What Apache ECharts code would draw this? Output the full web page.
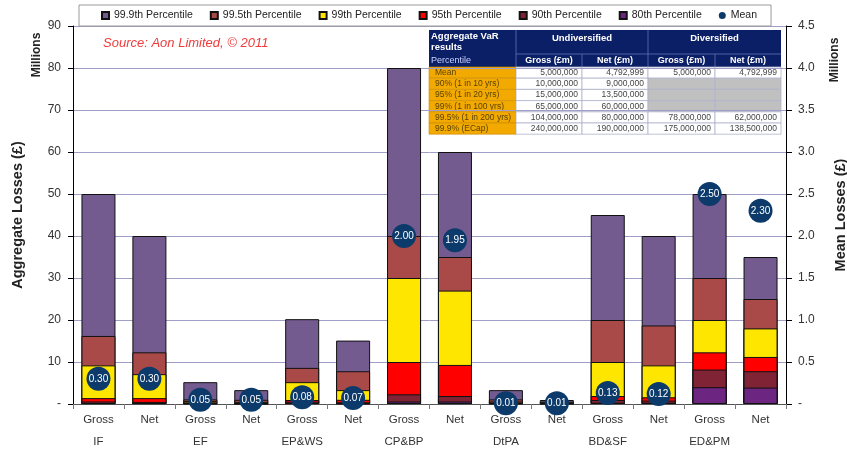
<!DOCTYPE html>
<html><head><meta charset="utf-8">
<script src="https://cdn.jsdelivr.net/npm/echarts@6/dist/echarts.min.js"></script>
<style>html,body{margin:0;padding:0;background:#fff}#c{width:847px;height:454px}</style>
</head><body><div id="c"></div>
<script>
// ---- data (values in millions) ----
const categories = ['Gross','Net','Gross','Net','Gross','Net','Gross','Net','Gross','Net','Gross','Net','Gross','Net'];
const groups = ['IF','EF','EP&WS','CP&BP','DtPA','BD&SF','ED&PM'];
const p999 = [50, 40, 5.2, 3.3, 20.2, 15.1, 80, 60, 3.3, 0.95, 45, 40, 50, 35];
const p995 = [16.2, 12.3, 1.1, 1.0, 8.6, 7.8, 40, 35, 1.1, 0.55, 20, 18.7, 30, 25];
const p99  = [9.2, 7.1, 0.7, 0.5, 5.2, 3.3, 30, 27, 0.6, 0.4, 10, 9.2, 20, 18];
const p95  = [1.4, 1.4, 0.4, 0.3, 0.95, 1.0, 10, 9.3, 0.4, 0.3, 1.9, 1.6, 12.3, 11.2];
const p90  = [0.6, 0.5, 0.2, 0.15, 0.55, 0.4, 2.3, 1.9, 0.25, 0.2, 0.95, 0.8, 8.2, 7.8];
const p80  = [0.2, 0.2, 0.1, 0.05, 0.2, 0.1, 0.6, 0.6, 0.1, 0.1, 0.3, 0.3, 4.0, 3.9];
const means = [0.30, 0.30, 0.05, 0.05, 0.08, 0.07, 2.00, 1.95, 0.01, 0.01, 0.13, 0.12, 2.50, 2.30];
const seriesNames = ['99.9th Percentile','99.5th Percentile','99th Percentile','95th Percentile','90th Percentile','80th Percentile','Mean'];

// ---- table data ----
const tableRowLabels = ['Mean','90% (1 in 10 yrs)','95% (1 in 20 yrs)','99% (1 in 100 yrs)','99.5% (1 in 200 yrs)','99.9% (ECap)'];
const undivGross = [5000000, 10000000, 15000000, 65000000, 104000000, 240000000];
const undivNet   = [4792999, 9000000, 13500000, 60000000, 80000000, 190000000];
const divGross   = [5000000, null, null, null, 78000000, 175000000];
const divNet     = [4792999, null, null, null, 62000000, 138500000];

const colors = ['#735A8F','#A94A48','#FFE600','#FF0000','#7F2335','#6C2580'];
const meanColor = '#0B3A6B';
const FONT = '"Liberation Sans", Arial, sans-serif';

function fmt(n){ return n.toLocaleString('en-US'); }

// ---- table graphic ----
const colX = [429, 516, 582, 648, 715, 781];
const rowY0 = 67, rowH = 11.2;
const g = [];
const navy = '#0B1F66';
g.push({type:'rect', shape:{x:colX[0], y:30, width:colX[5]-colX[0], height:37}, style:{fill:navy}});
[[colX[1],30,colX[1],67],[colX[3],30,colX[3],67],[colX[2],54,colX[2],67],[colX[4],54,colX[4],67],[colX[1],54,colX[5],54]].forEach(l=>{
  g.push({type:'line', shape:{x1:l[0],y1:l[1],x2:l[2],y2:l[3]}, style:{stroke:'#5363A3', lineWidth:1}});
});
function txt(t, x, y, o){
  g.push({type:'text', x:x, y:y, style:Object.assign({text:t, font:'bold 9px '+FONT, fill:'#fff', align:'left', verticalAlign:'middle'}, o||{})});
}
txt('Aggregate VaR', colX[0]+2, 36.5, {font:'bold 9.5px '+FONT});
txt('results', colX[0]+2, 47.5, {font:'bold 9.5px '+FONT});
txt('Undiversified', (colX[1]+colX[3])/2, 38, {align:'center', font:'bold 9.5px '+FONT});
txt('Diversified', (colX[3]+colX[5])/2, 38, {align:'center', font:'bold 9.5px '+FONT});
txt('Percentile', colX[0]+2, 60.5, {font:'9px '+FONT, fill:'#C9D2FF'});
['Gross (£m)','Net (£m)','Gross (£m)','Net (£m)'].forEach((t,i)=>{
  txt(t, (colX[i+1]+colX[i+2])/2, 60.5, {align:'center'});
});
const cols = [undivGross, undivNet, divGross, divNet];
tableRowLabels.forEach((lab, r)=>{
  const y = rowY0 + r*rowH;
  g.push({type:'rect', shape:{x:colX[0], y:y, width:colX[1]-colX[0], height:rowH}, style:{fill:'#F2A900', stroke:'#C98C00', lineWidth:0.6}});
  txt(lab, colX[0]+6, y+rowH/2, {font:'8.5px '+FONT, fill:'#5A4300'});
  cols.forEach((arr, c)=>{
    const v = arr[r];
    g.push({type:'rect', shape:{x:colX[c+1], y:y, width:colX[c+2]-colX[c+1], height:rowH},
      style:{fill: v==null ? '#C0C0C0' : '#fff', stroke:'#AEB3CC', lineWidth:0.8}});
    if (v != null) txt(fmt(v), colX[c+2]-4, y+rowH/2, {align:'right', font:'8.5px '+FONT, fill:'#444'});
  });
});
g.push({type:'text', x:103, y:43, style:{text:'Source: Aon Limited, © 2011', font:'italic 13px '+FONT, fill:'#EE3B3B', align:'left', verticalAlign:'middle'}});
g.push({type:'text', x:37, y:55, rotation:Math.PI/2, style:{text:'Millions', font:'bold 12px '+FONT, fill:'#222', align:'center', verticalAlign:'middle'}});
g.push({type:'text', x:835, y:60, rotation:Math.PI/2, style:{text:'Millions', font:'bold 12px '+FONT, fill:'#222', align:'center', verticalAlign:'middle'}});

const barData = [p999, p995, p99, p95, p90, p80];
const series = barData.map((d,i)=>({
  name: seriesNames[i], type:'bar', data:d, barWidth:34, barGap:'-100%',
  itemStyle:{color:colors[i], borderColor:'#111', borderWidth:1},
  emphasis:{disabled:true}, z:2+i
}));
series.push({
  name:'Mean', type:'scatter', yAxisIndex:1, data:means, symbol:'circle', symbolSize:24,
  itemStyle:{color:meanColor, opacity:1}, z:20, emphasis:{disabled:true},
  label:{show:true, position:'inside', color:'#fff', fontSize:10, fontFamily:FONT, formatter:p=>p.value.toFixed(2)}
});

const chart = echarts.init(document.getElementById('c'), null, {renderer:'canvas'});
chart.setOption({
  animation:false,
  textStyle:{fontFamily:FONT},
  grid:{left:73, right:61, top:26, bottom:50, containLabel:false, outerBoundsMode:'none'},
  legend:{
    data: seriesNames.map((n,i)=> i<6 ? {name:n, icon:'rect'} : {name:n, icon:'circle', itemStyle:{borderWidth:0, opacity:1}}),
    left:79, top:5, itemWidth:7, itemHeight:7, itemGap:17,
    padding:[5,14,5,22], borderColor:'#9a9a9a', borderWidth:1, backgroundColor:'#fff',
    textStyle:{fontSize:10.5, color:'#222', fontFamily:FONT}
  },
  xAxis:{
    type:'category', data:categories,
    axisLine:{lineStyle:{color:'#555'}},
    axisTick:{show:true, length:5, lineStyle:{color:'#777'}},
    axisLabel:{color:'#333', fontSize:11.5, margin:5, lineHeight:22, interval:0,
      formatter:(v,i)=> i%2===0 ? v+'\n'+groups[i/2] : v}
  },
  yAxis:[{
    type:'value', min:0, max:90, interval:10,
    name:'Aggregate Losses (£)', nameLocation:'middle', nameRotate:90, nameGap:48,
    nameTextStyle:{fontSize:14.5, fontWeight:'bold', color:'#222'},
    axisLine:{show:true, lineStyle:{color:'#000'}},
    axisTick:{show:true, length:5, lineStyle:{color:'#000'}},
    axisLabel:{color:'#333', fontSize:12, margin:12, formatter:v=> v===0 ? '-' : String(v)},
    splitLine:{show:true, lineStyle:{color:'#9E9EC8', width:1}}
  },{
    type:'value', min:0, max:4.5, interval:0.5, position:'right',
    name:'Mean Losses (£)', nameLocation:'middle', nameRotate:90, nameGap:47,
    nameTextStyle:{fontSize:14.5, fontWeight:'bold', color:'#222'},
    axisLine:{show:true, lineStyle:{color:'#000'}},
    axisTick:{show:true, length:6, lineStyle:{color:'#000'}},
    axisLabel:{color:'#333', fontSize:12, margin:12, formatter:v=> v===0 ? '-' : v.toFixed(1)},
    splitLine:{show:false}
  }],
  graphic:{elements:g},
  series: series
});
</script></body></html>
